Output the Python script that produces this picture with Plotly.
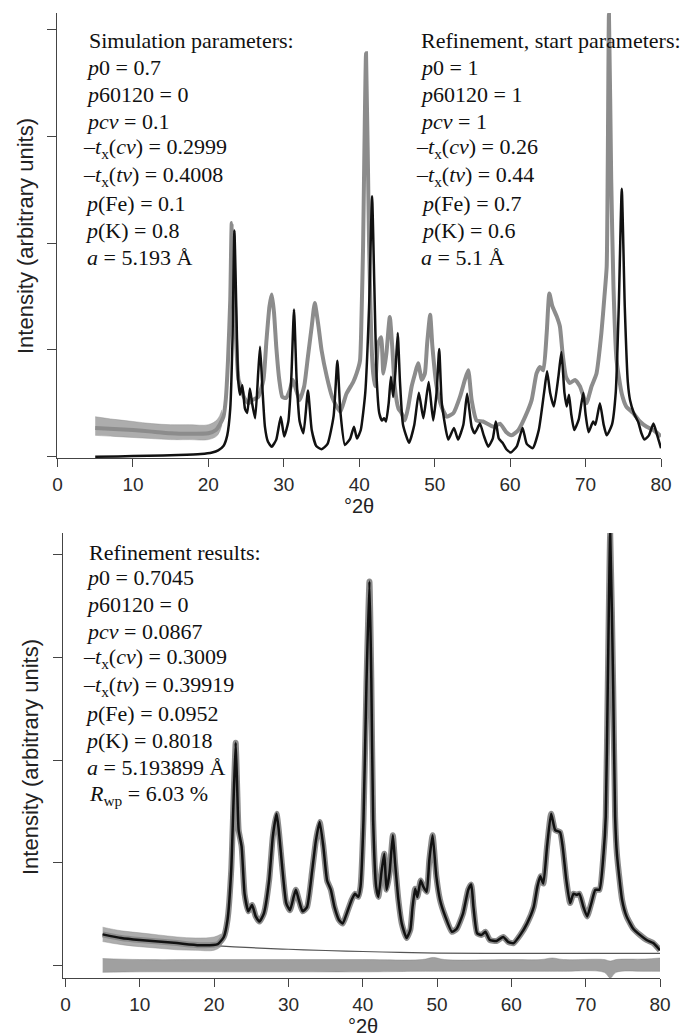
import plotly.graph_objects as go

W, H = 683, 1036

# ---------------- Upper panel: simulated pattern and measured pattern ----------------
sim_x = [5.0, 8.0, 12.0, 16.0, 19.0, 20.5, 21.3, 22.0, 22.5, 22.9, 23.2, 23.45, 23.7, 23.95,
         24.2, 24.5, 24.85, 25.15, 25.5, 25.8, 26.2, 26.6, 26.85, 27.15, 27.5, 27.9, 28.4,
         29.0, 29.6, 30.05, 30.6, 31.0, 31.35, 31.7, 32.1, 32.6, 33.2, 33.7, 34.3, 35.0,
         35.8, 36.6, 37.1, 37.5, 38.1, 38.8, 39.3, 39.7, 40.2, 40.8, 41.3, 41.7, 42.0, 42.3,
         42.65, 43.0, 43.3, 43.55, 43.9, 44.2, 44.5, 44.8, 45.1, 45.4, 45.8, 46.6, 47.3,
         47.9, 48.5, 49.2, 49.8, 50.25, 50.6, 50.95, 51.8, 52.55, 53.1, 53.8, 54.3, 54.9,
         55.3, 56.0, 56.5, 57.1, 57.7, 58.1, 58.5, 59.0, 59.5, 60.1, 60.9, 61.65, 62.2,
         63.0, 63.8, 64.5, 64.9, 65.3, 65.8, 66.4, 66.8, 67.2, 67.5, 67.8, 68.1, 68.5,
         69.1, 69.7, 70.0, 70.4, 71.0, 71.3, 71.9, 72.4, 72.8, 73.5, 74.0, 74.4, 74.8,
         75.2, 75.6, 75.9, 76.4, 77.0, 77.4, 77.8, 78.4, 79.0, 79.5, 80.0]
sim_y = [0.0, 0.003, 0.008, 0.015, 0.025, 0.04, 0.06, 0.10, 0.2, 0.45, 1.1, 2.12, 1.4, 0.72,
         0.58, 0.67, 0.45, 0.41, 0.64, 0.50, 0.36, 0.78, 1.03, 0.66, 0.28, 0.14, 0.094,
         0.16, 0.375, 0.19, 0.33, 0.75, 1.38, 0.72, 0.33, 0.22, 0.62, 0.25, 0.10, 0.07,
         0.12, 0.38, 0.90, 0.42, 0.11, 0.17, 0.28, 0.17, 0.25, 0.6, 1.4, 2.44, 1.6, 0.75,
         0.41, 0.34, 0.36, 0.33, 0.5, 0.75, 0.56, 0.8, 1.16, 0.7, 0.3, 0.13, 0.3,
         0.60, 0.36, 0.70, 0.34, 0.6, 1.01, 0.5, 0.16, 0.27, 0.16, 0.3, 0.59, 0.28,
         0.22, 0.31, 0.2, 0.094, 0.17, 0.33, 0.17, 0.13, 0.07, 0.04, 0.10, 0.27, 0.12,
         0.08, 0.25, 0.6, 0.80, 0.6, 0.47, 0.75, 0.98, 0.6, 0.47, 0.58, 0.4, 0.25,
         0.35, 0.60, 0.4, 0.23, 0.33, 0.30, 0.50, 0.3, 0.20, 0.3, 0.6, 1.4, 2.51,
         1.4, 0.7, 0.53, 0.41, 0.32, 0.22, 0.16, 0.2, 0.31, 0.2, 0.08]

obs1_x = [5.0, 7.5, 10.0, 12.5, 15.0, 17.5, 20.0, 21.0, 21.5, 22.0, 22.3, 22.6, 22.9, 23.1,
          23.4, 23.6, 24.0, 24.3, 24.7, 25.3, 25.8, 26.6, 27.3, 27.7, 28.1, 28.4, 28.7,
          29.0, 29.4, 29.8, 30.3, 30.8, 31.2, 31.7, 32.1, 32.7, 33.2, 33.7, 34.1, 34.6,
          35.0, 35.7, 36.4, 37.0, 37.5, 38.3, 39.2, 39.65, 40.1, 40.3, 40.5, 40.9, 41.3,
          41.6, 41.85, 42.1, 42.5, 42.9, 43.2, 43.6, 44.05, 44.4, 44.7, 45.2, 45.6, 46.05,
          46.5, 46.95, 47.4, 47.8, 48.3, 48.7, 49.0, 49.4, 49.7, 50.25, 50.9, 51.6, 52.5,
          53.35, 54.0, 54.45, 54.9, 55.55, 56.4, 57.8, 58.65, 59.5, 60.2, 61.1, 62.0,
          62.85, 63.5, 63.95, 64.4, 64.85, 65.2, 65.6, 66.2, 66.6, 66.95, 67.4, 67.9,
          68.6, 69.25, 70.1, 70.8, 71.45, 72.1, 72.5, 72.8, 73.1, 73.4, 73.7, 74.1,
          74.8, 75.4, 76.3, 77.2, 78.1, 79.0, 80.0]
obs1_y = [0.27, 0.26, 0.25, 0.235, 0.22, 0.215, 0.22, 0.25, 0.30, 0.375, 0.53, 0.9, 1.47, 2.19,
          1.78, 1.22, 0.72, 0.66, 0.56, 0.50, 0.53, 0.56, 0.72, 1.09, 1.41, 1.52, 1.35,
          1.03, 0.72, 0.56, 0.55, 0.625, 0.72, 0.61, 0.53, 0.66, 0.94, 1.22, 1.44, 1.22,
          1.0, 0.75, 0.56, 0.47, 0.42, 0.59, 0.70, 0.78, 0.9, 1.31, 1.94, 3.78, 2.0,
          1.1, 0.78, 0.66, 1.06, 1.12, 0.78, 0.97, 1.31, 1.0, 0.66, 0.45, 0.41, 0.34,
          0.47, 0.66, 0.78, 0.875, 0.72, 0.78, 1.06, 1.33, 1.03, 0.66, 0.47, 0.375, 0.41,
          0.56, 0.72, 0.81, 0.53, 0.34, 0.33, 0.28, 0.31, 0.23, 0.20, 0.25, 0.375,
          0.53, 0.78, 0.84, 0.81, 1.16, 1.53, 1.41, 1.31, 1.22, 0.97, 0.75, 0.69,
          0.72, 0.66, 0.50, 0.66, 0.78, 1.16, 1.5, 1.78, 4.15, 2.6, 1.59, 0.91,
          0.59, 0.47, 0.41, 0.33, 0.28, 0.25, 0.19]

# scatter spread of the measured points on the flat low-angle background
obs1_spread_x = [5.0, 7.5, 10.0, 12.5, 15.0, 17.5, 20.0, 21.2, 21.8]
obs1_spread_hi = [0.375, 0.35, 0.33, 0.31, 0.30, 0.30, 0.30, 0.35, 0.44]
obs1_spread_lo = [0.20, 0.19, 0.18, 0.17, 0.16, 0.16, 0.16, 0.20, 0.30]

# ---------------- Lower panel: refinement result ----------------
fit_x = [5.0, 7.5, 10.0, 12.5, 15.0, 18.0, 20.5, 21.3, 21.8, 22.3, 22.6, 22.9, 23.1, 23.3,
         23.7, 24.1, 24.6, 25.1, 25.6, 26.1, 26.7, 27.4, 27.9, 28.4, 28.7, 29.2, 29.7,
         30.2, 30.7, 31.0, 31.4, 31.9, 32.5, 33.2, 33.7, 34.2, 34.7, 35.2, 35.7, 36.2,
         36.8, 37.3, 37.85, 38.5, 38.96, 39.4, 39.7, 40.1, 40.5, 40.9, 41.15, 41.4, 41.8,
         42.1, 42.55, 42.9, 43.2, 43.6, 44.05, 44.35, 44.8, 45.25, 45.9, 46.4, 46.7,
         47.05, 47.35, 47.8, 48.15, 48.6, 48.96, 49.4, 49.9, 50.4, 51.1, 52.0, 52.65,
         53.5, 54.2, 54.6, 54.9, 55.4, 56.0, 56.5, 57.1, 58.0, 58.9, 59.6, 60.3, 61.2,
         62.1, 63.0, 63.5, 63.9, 64.3, 64.8, 65.35, 65.9, 66.55, 66.9, 67.4, 67.9, 68.35,
         68.8, 69.15, 69.7, 70.2, 70.8, 71.3, 71.85, 72.4, 72.7, 72.97, 73.3, 73.7,
         73.96, 74.2, 74.9, 75.5, 76.4, 77.3, 78.2, 79.1, 80.0]
fit_y = [0.305, 0.27, 0.25, 0.235, 0.22, 0.20, 0.21, 0.28, 0.445, 0.93, 1.58, 2.17, 1.74, 1.32,
         1.16, 0.70, 0.53, 0.59, 0.48, 0.43, 0.51, 0.83, 1.26, 1.48, 1.32, 0.93, 0.61,
         0.54, 0.67, 0.74, 0.64, 0.53, 0.57, 0.93, 1.22, 1.40, 1.16, 0.83, 0.74, 0.57,
         0.445, 0.41, 0.51, 0.64, 0.70, 0.67, 0.77, 1.42, 2.75, 3.74, 2.8, 1.42, 0.77,
         0.67, 0.93, 1.09, 0.74, 0.90, 1.27, 1.0, 0.64, 0.41, 0.27, 0.35, 0.57,
         0.75, 0.67, 0.83, 0.77, 0.72, 1.03, 1.27, 0.87, 0.64, 0.48, 0.33, 0.36,
         0.51, 0.74, 0.79, 0.57, 0.315, 0.30, 0.33, 0.25, 0.24, 0.28, 0.23, 0.22, 0.30,
         0.41, 0.57, 0.77, 0.87, 0.80, 1.16, 1.48, 1.32, 1.30, 1.16, 0.83, 0.61, 0.70,
         0.69, 0.70, 0.57, 0.48, 0.62, 0.74, 0.74, 1.09, 1.45, 2.72, 4.21, 2.72,
         1.45, 1.09, 0.64, 0.48, 0.36, 0.30, 0.25, 0.22, 0.15]

# measured points scatter tightly around the refined profile
obs2_x = fit_x
obs2_y = fit_y

# scatter spread of the measured points on the flat low-angle background
obs2_spread_x = [5.0, 7.5, 10.0, 12.5, 15.0, 17.5, 20.0, 21.0]
obs2_spread_hi = [0.375, 0.34, 0.32, 0.30, 0.28, 0.27, 0.28, 0.31]
obs2_spread_lo = [0.235, 0.205, 0.185, 0.17, 0.155, 0.15, 0.15, 0.19]

bg_x = [5, 10, 15, 20, 25, 30, 35, 40, 45, 50, 60, 70, 80]
bg_y = [0.305, 0.25, 0.22, 0.195, 0.175, 0.16, 0.148, 0.138, 0.13, 0.123, 0.12, 0.12, 0.12]

# difference curve (obs - calc), drawn as its upper / lower envelope
diff_x = [5, 10, 20, 30, 40, 48, 49.5, 51, 60, 64, 65.5, 67, 72.5, 73.3, 74.1, 78, 80]
diff_hi = [0.07, 0.06, 0.06, 0.06, 0.06, 0.06, 0.08, 0.06, 0.06, 0.06, 0.075, 0.06, 0.06, 0.045, 0.06, 0.065, 0.075]
diff_lo = [-0.065, -0.06, -0.06, -0.06, -0.06, -0.055, -0.055, -0.055, -0.055, -0.055, -0.055, -0.055, -0.065, -0.12, -0.065, -0.055, -0.055]

x_ticks = [0, 10, 20, 30, 40, 50, 60, 70, 80]
y_ticks = [0, 1, 2, 3, 4]

sim_params = ["Simulation parameters:",
              "<i>p</i>0 = 0.7",
              "<i>p</i>60120 = 0",
              "<i>pcv</i> = 0.1",
              "–<i>t</i><sub>x</sub>(<i>cv</i>) = 0.2999",
              "–<i>t</i><sub>x</sub>(<i>tv</i>) = 0.4008",
              "<i>p</i>(Fe) = 0.1",
              "<i>p</i>(K) = 0.8",
              "<i>a</i> = 5.193 Å"]
start_params = ["Refinement, start parameters:",
                "<i>p</i>0 = 1",
                "<i>p</i>60120 = 1",
                "<i>pcv</i> = 1",
                "–<i>t</i><sub>x</sub>(<i>cv</i>) = 0.26",
                "–<i>t</i><sub>x</sub>(<i>tv</i>) = 0.44",
                "<i>p</i>(Fe) = 0.7",
                "<i>p</i>(K) = 0.6",
                "<i>a</i> = 5.1 Å"]
result_params = ["Refinement results:",
                 "<i>p</i>0 = 0.7045",
                 "<i>p</i>60120 = 0",
                 "<i>pcv</i> = 0.0867",
                 "–<i>t</i><sub>x</sub>(<i>cv</i>) = 0.3009",
                 "–<i>t</i><sub>x</sub>(<i>tv</i>) = 0.39919",
                 "<i>p</i>(Fe) = 0.0952",
                 "<i>p</i>(K) = 0.8018",
                 "<i>a</i> = 5.193899 Å",
                 "<i>R</i><sub>wp</sub> = 6.03 %"]

SANS = "Arial, Liberation Sans, sans-serif"
SERIF = "Times New Roman, Liberation Serif, serif"
OBS_GREY = "#8c8c8c"
SPREAD_FILL = "rgba(138,138,138,0.7)"
AXIS_GREY = "#444444"

fig = go.Figure()


def spread_band(xs, hi, lo, xa, ya, fillcolor):
    fig.add_trace(go.Scatter(x=xs, y=hi, mode="lines", xaxis=xa, yaxis=ya,
                             line=dict(color=fillcolor, width=0.6, shape="spline")))
    fig.add_trace(go.Scatter(x=xs, y=lo, mode="lines", xaxis=xa, yaxis=ya,
                             fill="tonexty", fillcolor=fillcolor,
                             line=dict(color=fillcolor, width=0.6, shape="spline")))


# upper panel
spread_band(obs1_spread_x, obs1_spread_hi, obs1_spread_lo, "x", "y", SPREAD_FILL)
fig.add_trace(go.Scatter(x=obs1_x, y=obs1_y, mode="lines", xaxis="x", yaxis="y",
                         line=dict(color=OBS_GREY, width=4, shape="spline", smoothing=0.5)))
fig.add_trace(go.Scatter(x=sim_x, y=sim_y, mode="lines", xaxis="x", yaxis="y",
                         line=dict(color="#111111", width=2.5, shape="spline", smoothing=0.5)))

# lower panel
spread_band(diff_x, diff_hi, diff_lo, "x2", "y2", "rgba(128,128,128,0.75)")
fig.add_trace(go.Scatter(x=bg_x, y=bg_y, mode="lines", xaxis="x2", yaxis="y2",
                         line=dict(color="#555555", width=1.2, shape="spline")))
spread_band(obs2_spread_x, obs2_spread_hi, obs2_spread_lo, "x2", "y2", SPREAD_FILL)
fig.add_trace(go.Scatter(x=obs2_x, y=obs2_y, mode="lines", xaxis="x2", yaxis="y2",
                         line=dict(color=OBS_GREY, width=6, shape="spline", smoothing=0.5)))
fig.add_trace(go.Scatter(x=fit_x, y=fit_y, mode="lines", xaxis="x2", yaxis="y2",
                         line=dict(color="#111111", width=2.5, shape="spline", smoothing=0.5)))


def xaxis_style(domain, rng, anchor):
    return dict(domain=domain, range=rng, anchor=anchor, tickvals=x_ticks,
                ticks="outside", ticklen=8, tickwidth=1.2, tickcolor=AXIS_GREY,
                showline=True, linecolor=AXIS_GREY, linewidth=1.2, automargin=False,
                showgrid=False, zeroline=False, ticklabelstandoff=1,
                tickfont=dict(family=SANS, size=19, color="#2a2a2a"))


def yaxis_style(domain, rng, anchor):
    return dict(domain=domain, range=rng, anchor=anchor, tickvals=y_ticks,
                showticklabels=False, ticks="outside", ticklen=9, tickwidth=1.2,
                tickcolor=AXIS_GREY, showline=True, linecolor=AXIS_GREY, linewidth=1.2,
                showgrid=False, zeroline=False, automargin=False)


def px_x(p):
    return p / W


def px_y(p):
    return 1 - p / H


annotations = []


def text_block(lines, xs, ys):
    for t, xp, yp in zip(lines, xs, ys):
        annotations.append(dict(text=t, x=px_x(xp), y=px_y(yp), xref="paper", yref="paper",
                                xanchor="left", yanchor="middle", showarrow=False,
                                font=dict(family=SERIF, size=22, color="#111111")))


block_rows = [40, 67, 94, 121, 148, 176, 203, 230, 257]
text_block(sim_params, [87, 84, 84, 84, 81, 81, 83, 83, 85], block_rows)
text_block(start_params, [419, 418, 418, 418, 414, 414, 419, 419, 419], block_rows)
text_block(result_params, [87, 84, 84, 84, 81, 81, 83, 83, 85, 87],
           [552, 577, 604, 631, 658, 686, 713, 740, 767, 795])

for xc, yc in [(25, 236), (30, 757)]:
    annotations.append(dict(text="Intensity (arbitrary units)", x=px_x(xc), y=px_y(yc),
                            xref="paper", yref="paper", xanchor="center", yanchor="middle",
                            textangle=-90, showarrow=False,
                            font=dict(family=SANS, size=22, color="#222222")))
for xc, yc in [(359, 506), (363, 1026)]:
    annotations.append(dict(text="°2θ", x=px_x(xc), y=px_y(yc), xref="paper", yref="paper",
                            xanchor="center", yanchor="middle", showarrow=False,
                            font=dict(family=SANS, size=20, color="#222222")))

fig.update_layout(
    width=W, height=H, autosize=False,
    margin=dict(l=0, r=0, t=0, b=0, pad=0),
    paper_bgcolor="white", plot_bgcolor="white",
    showlegend=False,
    xaxis=xaxis_style([px_x(56.7), px_x(661)], [-0.106, 80], "y"),
    yaxis=yaxis_style([px_y(458), px_y(13)], [-0.0122, 4.158], "x"),
    xaxis2=xaxis_style([px_x(63.3), px_x(660)], [-0.296, 80], "y2"),
    yaxis2=yaxis_style([px_y(978.3), px_y(533)], [-0.1227, 4.213], "x2"),
    annotations=annotations,
)

fig.write_html("out.html")
